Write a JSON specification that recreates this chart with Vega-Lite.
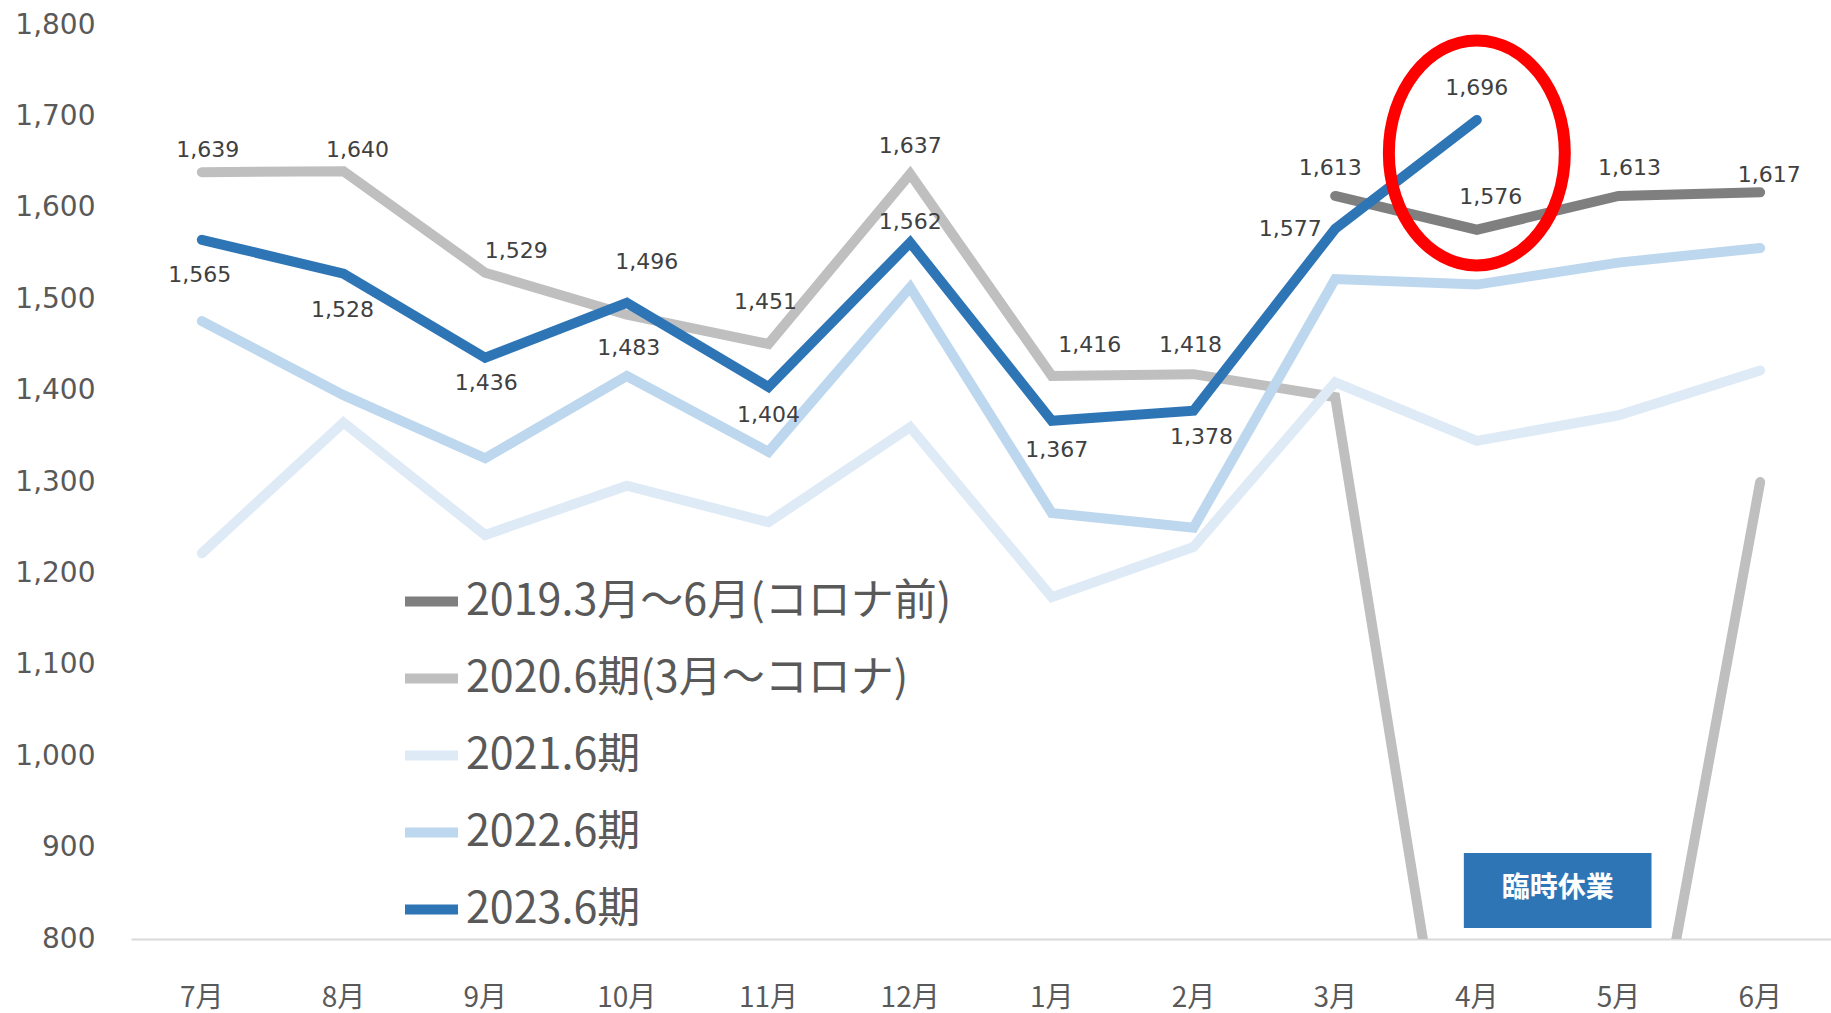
{
  "$schema": "https://vega.github.io/schema/vega-lite/v6.json",
  "width": 1700,
  "height": 914,
  "autosize": {"type": "none"},
  "padding": {"left": 131, "top": 25, "right": 0, "bottom": 74},
  "background": "#ffffff",
  "config": {
    "view": {"stroke": null},
    "font": "Noto Sans CJK JP"
  },
  "data": {
    "values": [
      {"series": "2019.3月～6月(コロナ前)", "year": "2019", "month": "3月", "value": 1613},
      {"series": "2019.3月～6月(コロナ前)", "year": "2019", "month": "4月", "value": 1576},
      {"series": "2019.3月～6月(コロナ前)", "year": "2019", "month": "5月", "value": 1613},
      {"series": "2019.3月～6月(コロナ前)", "year": "2019", "month": "6月", "value": 1617},
      {"series": "2020.6期(3月～コロナ)", "year": "2020", "month": "7月", "value": 1639},
      {"series": "2020.6期(3月～コロナ)", "year": "2020", "month": "8月", "value": 1640},
      {"series": "2020.6期(3月～コロナ)", "year": "2020", "month": "9月", "value": 1529},
      {"series": "2020.6期(3月～コロナ)", "year": "2020", "month": "10月", "value": 1483},
      {"series": "2020.6期(3月～コロナ)", "year": "2020", "month": "11月", "value": 1451},
      {"series": "2020.6期(3月～コロナ)", "year": "2020", "month": "12月", "value": 1637},
      {"series": "2020.6期(3月～コロナ)", "year": "2020", "month": "1月", "value": 1416},
      {"series": "2020.6期(3月～コロナ)", "year": "2020", "month": "2月", "value": 1418},
      {"series": "2020.6期(3月～コロナ)", "year": "2020", "month": "3月", "value": 1393},
      {"series": "2020.6期(3月～コロナ)", "year": "2020", "month": "4月", "value": 435},
      {"series": "2020.6期(3月～コロナ)", "year": "2020", "month": "5月", "value": 455},
      {"series": "2020.6期(3月～コロナ)", "year": "2020", "month": "6月", "value": 1300},
      {"series": "2021.6期", "year": "2021", "month": "7月", "value": 1222},
      {"series": "2021.6期", "year": "2021", "month": "8月", "value": 1365},
      {"series": "2021.6期", "year": "2021", "month": "9月", "value": 1242},
      {"series": "2021.6期", "year": "2021", "month": "10月", "value": 1296},
      {"series": "2021.6期", "year": "2021", "month": "11月", "value": 1256},
      {"series": "2021.6期", "year": "2021", "month": "12月", "value": 1360},
      {"series": "2021.6期", "year": "2021", "month": "1月", "value": 1174},
      {"series": "2021.6期", "year": "2021", "month": "2月", "value": 1229},
      {"series": "2021.6期", "year": "2021", "month": "3月", "value": 1409},
      {"series": "2021.6期", "year": "2021", "month": "4月", "value": 1345},
      {"series": "2021.6期", "year": "2021", "month": "5月", "value": 1373},
      {"series": "2021.6期", "year": "2021", "month": "6月", "value": 1422},
      {"series": "2022.6期", "year": "2022", "month": "7月", "value": 1476},
      {"series": "2022.6期", "year": "2022", "month": "8月", "value": 1395},
      {"series": "2022.6期", "year": "2022", "month": "9月", "value": 1326},
      {"series": "2022.6期", "year": "2022", "month": "10月", "value": 1416},
      {"series": "2022.6期", "year": "2022", "month": "11月", "value": 1333},
      {"series": "2022.6期", "year": "2022", "month": "12月", "value": 1513},
      {"series": "2022.6期", "year": "2022", "month": "1月", "value": 1266},
      {"series": "2022.6期", "year": "2022", "month": "2月", "value": 1250},
      {"series": "2022.6期", "year": "2022", "month": "3月", "value": 1522},
      {"series": "2022.6期", "year": "2022", "month": "4月", "value": 1516},
      {"series": "2022.6期", "year": "2022", "month": "5月", "value": 1540},
      {"series": "2022.6期", "year": "2022", "month": "6月", "value": 1556},
      {"series": "2023.6期", "year": "2023", "month": "7月", "value": 1565},
      {"series": "2023.6期", "year": "2023", "month": "8月", "value": 1528},
      {"series": "2023.6期", "year": "2023", "month": "9月", "value": 1436},
      {"series": "2023.6期", "year": "2023", "month": "10月", "value": 1496},
      {"series": "2023.6期", "year": "2023", "month": "11月", "value": 1404},
      {"series": "2023.6期", "year": "2023", "month": "12月", "value": 1562},
      {"series": "2023.6期", "year": "2023", "month": "1月", "value": 1367},
      {"series": "2023.6期", "year": "2023", "month": "2月", "value": 1378},
      {"series": "2023.6期", "year": "2023", "month": "3月", "value": 1577},
      {"series": "2023.6期", "year": "2023", "month": "4月", "value": 1696}
    ]
  },
  "encoding": {
    "x": {
      "field": "month", "type": "nominal",
      "sort": ["7月","8月","9月","10月","11月","12月","1月","2月","3月","4月","5月","6月"],
      "scale": {"type": "band", "paddingInner": 0, "paddingOuter": 0},
      "axis": {"title": null, "labelAngle": 0, "ticks": false, "tickSize": 0, "labelPadding": 45,
               "labelFontSize": 28, "labelColor": "#595959", "domainColor": "#d9d9d9", "domainWidth": 2,
               "labelFont": "Noto Sans CJK JP"}
    },
    "y": {
      "field": "value", "type": "quantitative",
      "scale": {"domain": [800, 1800], "nice": false, "zero": false},
      "axis": {"title": null, "values": [800,900,1000,1100,1200,1300,1400,1500,1600,1700,1800], "format": ",d",
               "grid": false, "domain": false, "ticks": false, "tickSize": 0, "labelPadding": 36,
               "labelFontSize": 28, "labelColor": "#595959", "labelFont": "DejaVu Sans"}
    }
  },
  "layer": [
    {
      "mark": {"type": "line", "clip": true, "strokeCap": "round"},
      "encoding": {
        "color": {
          "field": "series", "type": "nominal",
          "scale": {
            "domain": ["2019.3月～6月(コロナ前)", "2020.6期(3月～コロナ)", "2021.6期", "2022.6期", "2023.6期"],
            "range": ["#7f7f7f", "#bfbfbf", "#deebf7", "#bdd7ee", "#2e75b6"]
          },
          "legend": {
            "title": null, "orient": "none", "legendX": 269, "legendY": 545, "padding": 0,
            "symbolType": "stroke", "symbolSize": 2809, "symbolStrokeWidth": 9,
            "labelFontSize": 43, "labelColor": "#595959", "labelFont": "Noto Sans CJK JP",
            "labelLimit": 800, "labelOffset": 3, "rowPadding": 23
          }
        },
        "strokeWidth": {
          "field": "series", "type": "nominal",
          "scale": {
            "domain": ["2019.3月～6月(コロナ前)", "2020.6期(3月～コロナ)", "2021.6期", "2022.6期", "2023.6期"],
            "range": [10, 10, 6.5, 7, 11]
          },
          "legend": null
        }
      }
    },
    {"transform": [{"filter": "datum.year=='2020'&&datum.month=='7月'"}], "mark": {"type": "text", "dx": 6, "dy": -22, "fontSize": 22, "font": "DejaVu Sans", "color": "#404040"}, "encoding": {"text": {"field": "value", "type": "quantitative", "format": ","}}},
    {"transform": [{"filter": "datum.year=='2020'&&datum.month=='8月'"}], "mark": {"type": "text", "dx": 14, "dy": -21, "fontSize": 22, "font": "DejaVu Sans", "color": "#404040"}, "encoding": {"text": {"field": "value", "type": "quantitative", "format": ","}}},
    {"transform": [{"filter": "datum.year=='2020'&&datum.month=='9月'"}], "mark": {"type": "text", "dx": 31, "dy": -22, "fontSize": 22, "font": "DejaVu Sans", "color": "#404040"}, "encoding": {"text": {"field": "value", "type": "quantitative", "format": ","}}},
    {"transform": [{"filter": "datum.year=='2020'&&datum.month=='10月'"}], "mark": {"type": "text", "dx": 2, "dy": 33, "fontSize": 22, "font": "DejaVu Sans", "color": "#404040"}, "encoding": {"text": {"field": "value", "type": "quantitative", "format": ","}}},
    {"transform": [{"filter": "datum.year=='2020'&&datum.month=='11月'"}], "mark": {"type": "text", "dx": -3, "dy": -42, "fontSize": 22, "font": "DejaVu Sans", "color": "#404040"}, "encoding": {"text": {"field": "value", "type": "quantitative", "format": ","}}},
    {"transform": [{"filter": "datum.year=='2020'&&datum.month=='12月'"}], "mark": {"type": "text", "dx": 0, "dy": -28, "fontSize": 22, "font": "DejaVu Sans", "color": "#404040"}, "encoding": {"text": {"field": "value", "type": "quantitative", "format": ","}}},
    {"transform": [{"filter": "datum.year=='2020'&&datum.month=='1月'"}], "mark": {"type": "text", "dx": 38, "dy": -31, "fontSize": 22, "font": "DejaVu Sans", "color": "#404040"}, "encoding": {"text": {"field": "value", "type": "quantitative", "format": ","}}},
    {"transform": [{"filter": "datum.year=='2020'&&datum.month=='2月'"}], "mark": {"type": "text", "dx": -3, "dy": -29, "fontSize": 22, "font": "DejaVu Sans", "color": "#404040"}, "encoding": {"text": {"field": "value", "type": "quantitative", "format": ","}}},
    {"transform": [{"filter": "datum.year=='2019'&&datum.month=='3月'"}], "mark": {"type": "text", "dx": -5, "dy": -28, "fontSize": 22, "font": "DejaVu Sans", "color": "#404040"}, "encoding": {"text": {"field": "value", "type": "quantitative", "format": ","}}},
    {"transform": [{"filter": "datum.year=='2019'&&datum.month=='4月'"}], "mark": {"type": "text", "dx": 14, "dy": -33, "fontSize": 22, "font": "DejaVu Sans", "color": "#404040"}, "encoding": {"text": {"field": "value", "type": "quantitative", "format": ","}}},
    {"transform": [{"filter": "datum.year=='2019'&&datum.month=='5月'"}], "mark": {"type": "text", "dx": 11, "dy": -28, "fontSize": 22, "font": "DejaVu Sans", "color": "#404040"}, "encoding": {"text": {"field": "value", "type": "quantitative", "format": ","}}},
    {"transform": [{"filter": "datum.year=='2019'&&datum.month=='6月'"}], "mark": {"type": "text", "dx": 9, "dy": -17, "fontSize": 22, "font": "DejaVu Sans", "color": "#404040"}, "encoding": {"text": {"field": "value", "type": "quantitative", "format": ","}}},
    {"transform": [{"filter": "datum.year=='2023'&&datum.month=='7月'"}], "mark": {"type": "text", "dx": -2, "dy": 35, "fontSize": 22, "font": "DejaVu Sans", "color": "#404040"}, "encoding": {"text": {"field": "value", "type": "quantitative", "format": ","}}},
    {"transform": [{"filter": "datum.year=='2023'&&datum.month=='8月'"}], "mark": {"type": "text", "dx": -1, "dy": 36, "fontSize": 22, "font": "DejaVu Sans", "color": "#404040"}, "encoding": {"text": {"field": "value", "type": "quantitative", "format": ","}}},
    {"transform": [{"filter": "datum.year=='2023'&&datum.month=='9月'"}], "mark": {"type": "text", "dx": 1, "dy": 25, "fontSize": 22, "font": "DejaVu Sans", "color": "#404040"}, "encoding": {"text": {"field": "value", "type": "quantitative", "format": ","}}},
    {"transform": [{"filter": "datum.year=='2023'&&datum.month=='10月'"}], "mark": {"type": "text", "dx": 20, "dy": -41, "fontSize": 22, "font": "DejaVu Sans", "color": "#404040"}, "encoding": {"text": {"field": "value", "type": "quantitative", "format": ","}}},
    {"transform": [{"filter": "datum.year=='2023'&&datum.month=='11月'"}], "mark": {"type": "text", "dx": 0, "dy": 28, "fontSize": 22, "font": "DejaVu Sans", "color": "#404040"}, "encoding": {"text": {"field": "value", "type": "quantitative", "format": ","}}},
    {"transform": [{"filter": "datum.year=='2023'&&datum.month=='12月'"}], "mark": {"type": "text", "dx": 0, "dy": -21, "fontSize": 22, "font": "DejaVu Sans", "color": "#404040"}, "encoding": {"text": {"field": "value", "type": "quantitative", "format": ","}}},
    {"transform": [{"filter": "datum.year=='2023'&&datum.month=='1月'"}], "mark": {"type": "text", "dx": 5, "dy": 29, "fontSize": 22, "font": "DejaVu Sans", "color": "#404040"}, "encoding": {"text": {"field": "value", "type": "quantitative", "format": ","}}},
    {"transform": [{"filter": "datum.year=='2023'&&datum.month=='2月'"}], "mark": {"type": "text", "dx": 8, "dy": 26, "fontSize": 22, "font": "DejaVu Sans", "color": "#404040"}, "encoding": {"text": {"field": "value", "type": "quantitative", "format": ","}}},
    {"transform": [{"filter": "datum.year=='2023'&&datum.month=='3月'"}], "mark": {"type": "text", "dx": -45, "dy": 0, "fontSize": 22, "font": "DejaVu Sans", "color": "#404040"}, "encoding": {"text": {"field": "value", "type": "quantitative", "format": ","}}},
    {"transform": [{"filter": "datum.year=='2023'&&datum.month=='4月'"}], "mark": {"type": "text", "dx": 0, "dy": -32, "fontSize": 22, "font": "DejaVu Sans", "color": "#404040"}, "encoding": {"text": {"field": "value", "type": "quantitative", "format": ","}}},
    {
      "data": {"values": [{"month": "4月", "month2": "5月", "value": 894, "value2": 812}]},
      "mark": {"type": "rect", "color": "#2e75b6", "xOffset": -13, "x2Offset": 33},
      "encoding": {
        "x": {"field": "month", "type": "nominal", "sort": ["7月","8月","9月","10月","11月","12月","1月","2月","3月","4月","5月","6月"], "bandPosition": 0.5},
        "x2": {"field": "month2", "bandPosition": 0.5},
        "y2": {"field": "value2"}
      }
    },
    {
      "data": {"values": [{"month": "4月", "value": 855, "label": "臨時休業"}]},
      "mark": {"type": "text", "dx": 81, "fontSize": 28, "fontWeight": "bold", "color": "#ffffff", "baseline": "middle"},
      "encoding": {"text": {"field": "label", "type": "nominal"}}
    },
    {
      "data": {"values": [{"month": "4月", "value": 1660}]},
      "mark": {
        "type": "point", "filled": false, "opacity": 1, "stroke": "#ff0000", "strokeWidth": 12, "size": 50625,
        "shape": "M 0 -1 C 0.4319 -1 0.782 -0.5523 0.782 0 C 0.782 0.5523 0.4319 1 0 1 C -0.4319 1 -0.782 0.5523 -0.782 0 C -0.782 -0.5523 -0.4319 -1 0 -1 Z"
      }
    }
  ]
}
